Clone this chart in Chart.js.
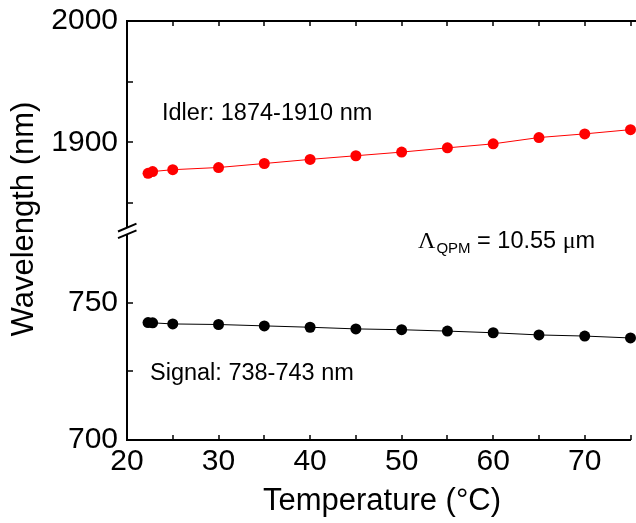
<!DOCTYPE html>
<html><head><meta charset="utf-8">
<script src="https://cdn.jsdelivr.net/npm/chart.js@4"></script>
<style>html,body{margin:0;padding:0;background:#fff}#wrap{width:636px;height:523px}</style>
</head><body><div id="wrap"><canvas id="c" width="636" height="523"></canvas></div>
<script>
const temperatures = [22.3, 22.8, 25, 30, 35, 40, 45, 50, 55, 60, 65, 70, 75];
const idlerWavelengths = [1874.5, 1876, 1877.5, 1879.3, 1882.6, 1886, 1889, 1892, 1895.5, 1898.8, 1904, 1907, 1910.5];
const signalWavelengths = [742.7, 742.6, 742.2, 742.0, 741.5, 741.0, 740.4, 740.1, 739.6, 739.0, 738.2, 737.8, 737.1];
const xTickLabels = [20, 30, 40, 50, 60, 70];
const xTickMarks = [25, 30, 35, 40, 45, 50, 55, 60, 65, 70, 75];
const yUpperTickLabels = [1900, 2000];
const yUpperTickMarks = [1850, 1900, 1950];
const yLowerTickLabels = [700, 750];
const yLowerTickMarks = [725, 750];
const xTitle = 'Temperature (°C)';
const yTitle = 'Wavelength (nm)';
const idlerNote = 'Idler: 1874-1910 nm';
const signalNote = 'Signal: 738-743 nm';

const FONT = '"Liberation Sans", Arial, sans-serif';
const SERIF = '"Liberation Serif", "Times New Roman", serif';

const pts = (xs, ys) => xs.map((x, i) => ({x, y: ys[i]}));

const deco = {
  id: 'deco',
  afterDraw(chart) {
    const {ctx, chartArea: ca, scales} = chart;
    const xs = scales.x, yu = scales.yUpper, yl = scales.yLower;
    ctx.save();
    ctx.strokeStyle = '#000';
    ctx.lineWidth = 2;
    // top frame line
    ctx.beginPath();
    ctx.moveTo(ca.left - 1, ca.top);
    ctx.lineTo(chart.width, ca.top);
    ctx.stroke();
    // x tick marks (inward) bottom and top
    ctx.lineWidth = 1.5;
    xTickMarks.forEach(v => {
      const px = Math.round(xs.getPixelForValue(v));
      ctx.beginPath(); ctx.moveTo(px, ca.bottom); ctx.lineTo(px, ca.bottom - 5); ctx.stroke();
      ctx.beginPath(); ctx.moveTo(px, ca.top); ctx.lineTo(px, ca.top + 5); ctx.stroke();
    });
    // y tick marks (inward)
    yUpperTickMarks.forEach(v => {
      const py = Math.round(yu.getPixelForValue(v));
      ctx.beginPath(); ctx.moveTo(ca.left, py); ctx.lineTo(ca.left + 6, py); ctx.stroke();
    });
    yLowerTickMarks.forEach(v => {
      const py = Math.round(yl.getPixelForValue(v));
      ctx.beginPath(); ctx.moveTo(ca.left, py); ctx.lineTo(ca.left + 6, py); ctx.stroke();
    });
    // axis break
    const yb = yu.bottom;
    const L = ca.left;
    ctx.fillStyle = '#fff';
    ctx.fillRect(L - 3, yb - 3, 6, 6);
    ctx.lineWidth = 2;
    [-3.3, 3.3].forEach(d => {
      ctx.beginPath();
      ctx.moveTo(L - 9, yb + d + 3.8);
      ctx.lineTo(L + 9.5, yb + d - 4);
      ctx.stroke();
    });
    // texts
    ctx.fillStyle = '#000';
    ctx.textBaseline = 'alphabetic';
    ctx.textAlign = 'left';
    ctx.font = '23.5px ' + FONT;
    ctx.fillText(idlerNote, 162, 120);
    ctx.fillText(signalNote, 150, 380);
    // Lambda_QPM = 10.55 um
    let x = 418;
    ctx.font = '24px ' + SERIF;
    ctx.fillText('Λ', x, 248);
    x += ctx.measureText('Λ').width + 1;
    ctx.font = '15px ' + FONT;
    ctx.fillText('QPM', x, 253);
    x += ctx.measureText('QPM').width;
    ctx.font = '23.5px ' + FONT;
    ctx.fillText(' = 10.55 ', x, 248);
    x += ctx.measureText(' = 10.55 ').width;
    ctx.font = '24px ' + SERIF;
    ctx.fillText('μ', x, 248);
    x += ctx.measureText('μ').width;
    ctx.font = '23.5px ' + FONT;
    ctx.fillText('m', x, 248);
    // axis titles
    ctx.font = '31px ' + FONT;
    ctx.textAlign = 'center';
    ctx.fillText(xTitle, 382, 510);
    ctx.translate(24, 219);
    ctx.rotate(-Math.PI / 2);
    ctx.textBaseline = 'middle';
    ctx.fillText(yTitle, 0, 0);
    ctx.restore();
  }
};

const tickFont = {family: FONT, size: 30};
const plain = v => String(v);
const noPad = s => { s.paddingTop = 0; s.paddingBottom = 0; };

new Chart(document.getElementById('c'), {
  type: 'scatter',
  data: {
    datasets: [
      {
        label: 'Signal',
        data: pts(temperatures, signalWavelengths),
        yAxisID: 'yLower',
        showLine: true,
        borderColor: '#000',
        backgroundColor: '#000',
        borderWidth: 1,
        pointRadius: 5.5,
        pointBorderWidth: 0,
        pointHoverRadius: 5.5,
        clip: false
      },
      {
        label: 'Idler',
        data: pts(temperatures, idlerWavelengths),
        yAxisID: 'yUpper',
        showLine: true,
        borderColor: '#ff0000',
        backgroundColor: '#ff0000',
        borderWidth: 1,
        pointRadius: 5.5,
        pointBorderWidth: 0,
        pointHoverRadius: 5.5,
        clip: false
      }
    ]
  },
  options: {
    responsive: false,
    animation: false,
    events: [],
    layout: {padding: {top: 21, right: 3, left: 0, bottom: 0}},
    plugins: {legend: {display: false}, tooltip: {enabled: false}},
    scales: {
      x: {
        type: 'linear', position: 'bottom', min: 20, max: 75,
        afterBuildTicks: s => { s.ticks = xTickLabels.map(v => ({value: v})); },
        afterFit: s => { s.height = 83; s.paddingLeft = 0; s.paddingRight = 0; },
        grid: {display: true, drawOnChartArea: false, drawTicks: false},
        border: {display: true, color: '#000', width: 2},
        ticks: {color: '#000', font: tickFont, padding: 4, maxRotation: 0, autoSkip: false, callback: plain}
      },
      yLower: {
        type: 'linear', position: 'left', stack: 'wl', stackWeight: 209,
        min: 700, max: 776,
        afterBuildTicks: s => { s.ticks = yLowerTickLabels.map(v => ({value: v})); },
        afterFit: s => { s.width = 127; noPad(s); },
        grid: {display: true, drawOnChartArea: false, drawTicks: false},
        border: {display: true, color: '#000', width: 2},
        ticks: {color: '#000', font: tickFont, padding: 9, autoSkip: false, callback: plain}
      },
      yUpper: {
        type: 'linear', position: 'left', stack: 'wl', stackWeight: 210,
        min: 1827, max: 2000,
        afterBuildTicks: s => { s.ticks = yUpperTickLabels.map(v => ({value: v})); },
        afterFit: s => { s.width = 127; noPad(s); },
        grid: {display: true, drawOnChartArea: false, drawTicks: false},
        border: {display: true, color: '#000', width: 2},
        ticks: {color: '#000', font: tickFont, padding: 9, autoSkip: false, callback: plain}
      }
    }
  },
  plugins: [deco]
});
</script>
</body></html>
